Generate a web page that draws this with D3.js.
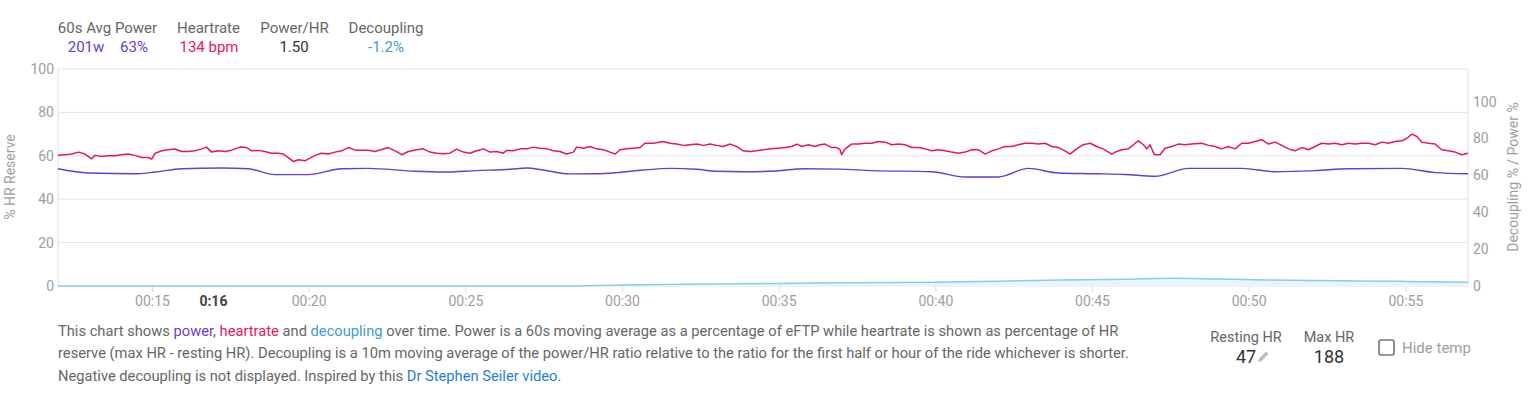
<!DOCTYPE html>
<html>
<head>
<meta charset="utf-8">
<script src="https://cdn.jsdelivr.net/npm/d3@7"></script>
<style>
  body { margin: 0; background: #fff; }
  svg text { font-family: Roboto, "Noto Sans", sans-serif; }
</style>
</head>
<body>
<script>
// Data (time in minutes)
const hrData = [
  [12.00,60.2],[12.22,60.5],[12.44,60.8],[12.65,61.7],[12.86,60.8],[13.02,59.2],[13.07,58.6],[13.18,60.2],[13.39,59.7],[13.61,60.0],
  [13.82,60.0],[14.03,60.5],[14.24,60.8],[14.46,60.2],[14.67,59.2],[14.88,59.2],[14.99,58.5],[15.10,61.2],[15.31,62.3],[15.52,62.8],
  [15.73,63.1],[15.95,62.0],[16.16,62.0],[16.37,62.3],[16.59,63.2],[16.74,64.0],[16.90,61.7],[17.12,62.3],[17.33,62.0],[17.54,62.6],
  [17.81,64.0],[18.02,63.8],[18.18,62.3],[18.39,62.5],[18.61,62.0],[18.82,61.2],[19.03,61.2],[19.19,60.8],[19.35,59.2],[19.51,57.4],
  [19.67,58.2],[19.88,57.7],[20.04,58.9],[20.20,60.2],[20.41,61.2],[20.63,60.8],[20.84,61.7],[21.05,62.3],[21.27,63.8],[21.48,62.6],
  [21.69,62.6],[21.90,62.6],[22.12,62.0],[22.33,62.9],[22.54,63.8],[22.76,62.3],[22.97,60.5],[23.18,62.0],[23.45,62.8],[23.66,63.2],
  [23.87,61.7],[24.09,61.2],[24.30,60.9],[24.51,61.2],[24.72,63.1],[24.94,61.7],[25.15,61.2],[25.36,62.3],[25.58,63.2],[25.79,61.7],
  [26.00,62.0],[26.21,61.2],[26.32,62.5],[26.53,62.3],[26.75,63.2],[26.96,63.2],[27.17,64.0],[27.38,63.5],[27.60,63.2],[27.81,62.3],
  [28.02,62.0],[28.23,60.8],[28.45,61.7],[28.55,64.0],[28.77,63.5],[28.98,64.3],[29.19,63.2],[29.41,62.8],[29.62,61.7],[29.78,60.8],
  [29.94,62.8],[30.15,63.2],[30.36,63.5],[30.58,63.8],[30.73,65.8],[31.00,65.8],[31.32,66.6],[31.53,65.8],[31.75,65.4],[31.96,64.8],
  [32.17,65.1],[32.38,65.4],[32.60,64.8],[32.81,65.4],[33.02,64.8],[33.23,64.3],[33.45,65.4],[33.66,64.3],[33.87,62.3],[34.09,62.0],
  [34.30,62.3],[34.51,62.8],[34.78,63.2],[35.00,63.5],[35.20,63.8],[35.42,64.3],[35.58,65.4],[35.74,64.3],[35.95,65.1],[36.16,64.3],
  [36.32,65.1],[36.48,65.4],[36.69,63.8],[36.85,63.8],[36.96,62.8],[37.01,60.5],[37.12,63.2],[37.33,65.4],[37.54,65.4],[37.76,65.8],
  [37.97,65.8],[38.18,66.6],[38.40,66.3],[38.61,65.1],[38.82,65.4],[39.03,65.1],[39.25,63.8],[39.46,63.8],[39.67,63.2],[39.89,62.3],
  [40.10,62.8],[40.31,62.3],[40.52,61.7],[40.74,61.2],[40.95,61.7],[41.16,62.8],[41.37,62.8],[41.59,60.8],[41.80,62.3],[42.01,63.2],
  [42.23,64.3],[42.44,64.3],[42.65,65.1],[42.86,65.8],[43.08,65.8],[43.29,65.4],[43.50,65.8],[43.72,64.3],[43.93,63.8],[44.14,62.3],
  [44.30,60.8],[44.51,63.2],[44.72,65.1],[44.94,65.8],[45.15,64.3],[45.36,63.2],[45.63,60.8],[45.74,61.7],[45.95,62.8],[46.16,63.2],
  [46.38,65.8],[46.48,66.9],[46.64,65.1],[46.75,63.2],[46.85,65.1],[46.99,60.5],[47.17,60.5],[47.33,63.5],[47.55,64.3],[47.76,65.4],
  [47.97,65.1],[48.18,65.4],[48.50,65.8],[48.72,64.8],[48.93,64.3],[49.14,63.2],[49.35,64.3],[49.57,63.2],[49.78,65.8],[49.99,65.8],
  [50.20,66.6],[50.42,67.4],[50.63,65.4],[50.84,66.3],[51.06,64.8],[51.27,63.2],[51.48,62.3],[51.70,63.8],[51.91,62.8],[52.12,64.3],
  [52.33,65.8],[52.55,65.4],[52.76,65.8],[52.97,65.1],[53.18,65.8],[53.40,65.4],[53.61,65.8],[53.82,65.8],[54.04,65.1],[54.25,66.3],
  [54.46,65.8],[54.67,66.6],[54.89,66.9],[55.05,68.1],[55.21,70.0],[55.37,68.9],[55.52,66.3],[55.74,65.8],[55.95,65.4],[56.16,62.8],
  [56.37,62.3],[56.59,61.7],[56.80,60.5],[57.00,61.2]
];

const powerData = [
  [12.00,63.6],[12.97,61.3],[14.56,60.9],[15.10,61.8],[15.95,63.6],[17.22,64.0],[18.07,63.6],[18.92,60.4],[19.99,60.4],[21.05,63.6],
  [21.90,63.8],[23.39,62.2],[24.30,61.8],[25.36,62.6],[26.43,63.3],[26.96,64.0],[27.49,62.9],[28.34,60.8],[29.19,60.9],[29.83,61.5],
  [30.68,62.9],[31.53,63.8],[32.38,63.3],[33.02,62.2],[33.87,62.0],[34.72,62.2],[35.84,63.6],[36.91,63.4],[37.97,62.6],[39.89,62.0],
  [40.95,59.1],[42.01,59.1],[42.97,63.8],[43.93,61.3],[45.20,60.9],[46.06,60.5],[47.01,59.5],[48.08,63.8],[49.78,63.8],[50.84,62.0],
  [52.12,62.6],[53.18,63.6],[54.89,63.8],[55.95,61.5],[57.00,60.9]
];

const decouplingData = [
  [12,0],[28,0],[30,0.5],[32,0.9],[35,1.4],[37,1.7],[40,2.0],[42,2.6],[44,3.2],[46,3.6],
  [47.5,4.2],[49,3.8],[50.5,3.3],[52,3.0],[53.5,2.7],[55,2.5],[57,2.0]
];

const xTicks = [15, 20, 25, 30, 35, 40, 45, 50, 55];
const leftTicks = [0, 20, 40, 60, 80, 100];
const rightTicks = [0, 20, 40, 60, 80, 100];
const cursorTime = 16.96;
const cursorLabel = '0:16';

const legendLabels = ['60s Avg Power', 'Heartrate', 'Power/HR', 'Decoupling'];
const legendValues = [['201w', '63%'], ['134 bpm'], ['1.50'], ['-1.2%']];
const restingHR = 47;
const maxHR = 188;

const colPower = '#6a3ad8', colHr = '#e8175d', colDec = '#3d9cd2';

const svg = d3.select('body').append('svg')
  .attr('width', 1535)
  .attr('height', 398);

const x = d3.scaleLinear().domain([12, 57]).range([58, 1468]);
const yHr = d3.scaleLinear().domain([0, 100]).range([286, 69]);
const yPow = d3.scaleLinear().domain([0, 117.7]).range([286, 69]);

// grid
svg.append('g').selectAll('line')
  .data(leftTicks)
  .enter().append('line')
  .attr('x1', 58).attr('x2', 1468)
  .attr('y1', d => yHr(d)).attr('y2', d => yHr(d))
  .attr('stroke', '#e6e6e6');

// plot borders
[58, 1468].forEach(px => {
  svg.append('line')
    .attr('x1', px).attr('x2', px).attr('y1', 69).attr('y2', 286)
    .attr('stroke', '#dedede');
});

// axes
const leftAxis = svg.append('g')
  .attr('transform', 'translate(58,0)')
  .call(d3.axisLeft(yHr).tickValues(leftTicks).tickSize(0).tickPadding(4));
const rightAxis = svg.append('g')
  .attr('transform', 'translate(1468,0)')
  .call(d3.axisRight(yPow).tickValues(rightTicks).tickSize(0).tickPadding(5));
const bottomAxis = svg.append('g')
  .attr('transform', 'translate(0,286)')
  .call(d3.axisBottom(x).tickValues(xTicks).tickSize(6).tickPadding(4)
    .tickFormat(m => '00:' + m));

[leftAxis, rightAxis, bottomAxis].forEach(a => {
  a.select('.domain').remove();
  a.selectAll('text').attr('fill', '#9e9e9e').style('font-size', '14px');
  a.selectAll('line').attr('stroke', '#dcdcdc');
});

svg.append('text')
  .attr('x', x(cursorTime)).attr('y', 306)
  .attr('text-anchor', 'middle')
  .attr('fill', '#444').style('font-size', '14px').style('font-weight', 'bold')
  .text(cursorLabel);

// axis titles
svg.append('text')
  .attr('transform', 'translate(15,177) rotate(-90)')
  .attr('text-anchor', 'middle')
  .attr('fill', '#9e9e9e').style('font-size', '14px')
  .text('% HR Reserve');
svg.append('text')
  .attr('transform', 'translate(1518,177) rotate(-90)')
  .attr('text-anchor', 'middle')
  .attr('fill', '#9e9e9e').style('font-size', '14px')
  .text('Decoupling % / Power %');

// decoupling area + line
svg.append('path')
  .datum(decouplingData)
  .attr('fill', '#e8f5fc')
  .attr('d', d3.area().x(d => x(d[0])).y0(yPow(0)).y1(d => yPow(d[1])).curve(d3.curveMonotoneX));
svg.append('path')
  .datum(decouplingData)
  .attr('fill', 'none')
  .attr('stroke', '#86cdee')
  .attr('stroke-width', 1.5)
  .attr('d', d3.line().x(d => x(d[0])).y(d => yPow(d[1])).curve(d3.curveMonotoneX));

// power
svg.append('path')
  .datum(powerData)
  .attr('fill', 'none')
  .attr('stroke', colPower)
  .attr('stroke-width', 1.4)
  .attr('d', d3.line().x(d => x(d[0])).y(d => yPow(d[1])).curve(d3.curveMonotoneX));

// heartrate
svg.append('path')
  .datum(hrData)
  .attr('fill', 'none')
  .attr('stroke', colHr)
  .attr('stroke-width', 1.5)
  .attr('stroke-linejoin', 'round')
  .attr('d', d3.line().x(d => x(d[0])).y(d => yHr(d[1])));

// legend
const legendX = [107.5, 208.5, 294.5, 386];
const valueX = [[86, 134], [209], [294], [386]];
const valueCol = [[colPower, colPower], [colHr], ['#333'], [colDec]];
legendLabels.forEach((lab, i) => {
  svg.append('text')
    .attr('x', legendX[i]).attr('y', 33)
    .attr('text-anchor', 'middle')
    .attr('fill', '#666').style('font-size', '15px')
    .text(lab);
  legendValues[i].forEach((v, j) => {
    svg.append('text')
      .attr('x', valueX[i][j]).attr('y', 52)
      .attr('text-anchor', 'middle')
      .attr('fill', valueCol[i][j]).style('font-size', '15px')
      .text(v);
  });
});

// description
const descLines = [
  [['This chart shows ', '#666'], ['power', colPower], [', ', '#666'], ['heartrate', colHr], [' and ', '#666'], ['decoupling', colDec],
   [' over time. Power is a 60s moving average as a percentage of eFTP while heartrate is shown as percentage of HR', '#666']],
  [['reserve (max HR - resting HR). Decoupling is a 10m moving average of the power/HR ratio relative to the ratio for the first half or hour of the ride whichever is shorter.', '#666']],
  [['Negative decoupling is not displayed. Inspired by this ', '#666'], ['Dr Stephen Seiler video', '#1e7fd6'], ['.', '#666']]
];
descLines.forEach((parts, i) => {
  const t = svg.append('text')
    .attr('x', 58).attr('y', 335.5 + i * 22.5)
    .style('font-size', '14.7px');
  parts.forEach(p => t.append('tspan').attr('fill', p[1]).text(p[0]));
});

// HR settings
svg.append('text').attr('x', 1246).attr('y', 341.5).attr('text-anchor', 'middle')
  .attr('fill', '#666').style('font-size', '14.5px').text('Resting HR');
svg.append('text').attr('x', 1246).attr('y', 363).attr('text-anchor', 'middle')
  .attr('fill', '#333').style('font-size', '18px').text(restingHR);
svg.append('path')
  .attr('d', 'M1258,362 L1259,358.5 L1266,351.5 L1268.5,354 L1261.5,361 Z')
  .attr('fill', '#bdbdbd');
svg.append('text').attr('x', 1329).attr('y', 341.5).attr('text-anchor', 'middle')
  .attr('fill', '#666').style('font-size', '14.5px').text('Max HR');
svg.append('text').attr('x', 1329).attr('y', 363).attr('text-anchor', 'middle')
  .attr('fill', '#333').style('font-size', '18px').text(maxHR);

svg.append('rect')
  .attr('x', 1379).attr('y', 340).attr('width', 15).attr('height', 15).attr('rx', 2)
  .attr('fill', 'none').attr('stroke', '#757575').attr('stroke-width', 1.6);
svg.append('text').attr('x', 1402).attr('y', 353)
  .attr('fill', '#9e9e9e').style('font-size', '15px').text('Hide temp');
</script>
</body>
</html>
